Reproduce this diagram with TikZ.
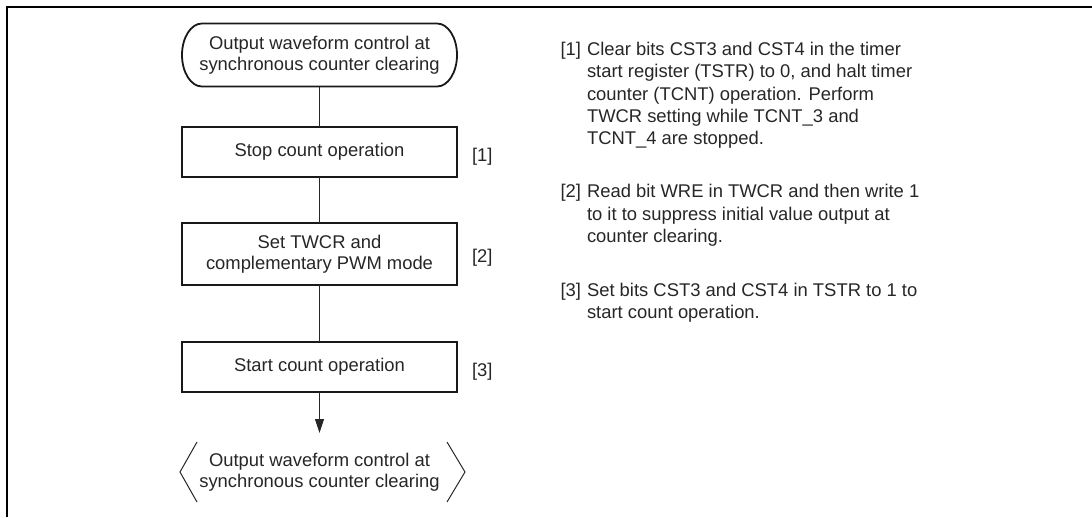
\documentclass[tikz,border=0pt]{standalone}
\usepackage{fontspec}
\setmainfont{Liberation Sans}
\usetikzlibrary{arrows.meta}
\begin{document}
\begin{tikzpicture}[x=1pt,y=1pt,
  every node/.style={inner sep=0pt, outer sep=0pt, text=black!85, font=\fontsize{18.4}{21.5}\selectfont},
  procbox/.style={draw=black!90, line width=2.2pt, minimum width=275pt, align=center},
  conn/.style={draw=black!85, line width=1pt},
  termshape/.style={draw=black!90, line width=1.8pt},
  chev/.style={draw=black!85, line width=1pt},
  term/.style={minimum width=275pt, minimum height=63pt, align=center},
  note/.style={anchor=base west, align=left, font=\fontsize{18.4}{22.3}\selectfont},
  lbl/.style={anchor=west},
]
\useasboundingbox (0,0) rectangle (1092,-517);
\draw[line width=2pt] (6.5,-517) -- (6.5,-6.5) -- (1092,-6.5);

% start terminal
\node[term] (s) at (319.5,-55) {Output waveform control at\\synchronous counter clearing};
\draw[termshape] ([xshift=20pt]s.north west) -- ([xshift=-20pt]s.north east)
  arc[start angle=90, end angle=-90, x radius=20pt, y radius=31.5pt]
  -- ([xshift=20pt]s.south west)
  arc[start angle=270, end angle=90, x radius=20pt, y radius=31.5pt] -- cycle;

% process boxes
\node[procbox, minimum height=50pt] (b1) at (319.5,-152) {Stop count operation};
\node[procbox, minimum height=62pt] (b2) at (319.5,-254) {Set TWCR and\\complementary PWM mode};
\node[procbox, minimum height=50pt] (b3) at (319.5,-367) {Start count operation};

% end terminal
\node[minimum width=250pt, minimum height=60pt, align=center] (e) at (319.5,-472) {Output waveform control at\\synchronous counter clearing};
\draw[chev] ([shift={(-122.5,30)}]e.center) -- ([shift={(-139.5,0)}]e.center) -- ([shift={(-122.5,-30)}]e.center);
\draw[chev] ([shift={(127.5,30)}]e.center) -- ([shift={(145.5,0)}]e.center) -- ([shift={(127.5,-30)}]e.center);

% connectors
\draw[conn] (s.south) -- (b1.north);
\draw[conn] (b1.south) -- (b2.north);
\draw[conn] (b2.south) -- (b3.north);
\draw[conn, -{Triangle[length=14pt,width=9pt]}, shorten >=9pt] (b3.south) -- (e.north);

% step labels
\node[lbl] (l1) at (472,-156.5) {[1]};
\node[lbl] (l2) at (472,-257.5) {[2]};
\node[lbl] (l3) at (472,-371.5) {[3]};

% notes (base anchor = baseline of last line)
\node[note] (n1) at (560.5,-55.5) {[1]};
\node[note] (t1) at (587,-144.7) {Clear bits CST3 and CST4 in the timer\\start register (TSTR) to 0, and halt timer\\counter (TCNT) operation. Perform\\TWCR setting while TCNT\_3 and\\TCNT\_4 are stopped.};
\node[note] (n2) at (560.5,-197.8) {[2]};
\node[note] (t2) at (587,-242.4) {Read bit WRE in TWCR and then write 1\\to it to suppress initial value output at\\counter clearing.};
\node[note] (n3) at (560.5,-296.5) {[3]};
\node[note] (t3) at (587,-318.8) {Set bits CST3 and CST4 in TSTR to 1 to\\start count operation.};
\end{tikzpicture}
\end{document}
